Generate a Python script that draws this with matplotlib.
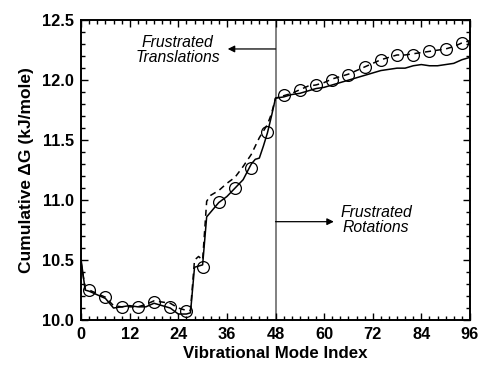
import matplotlib.pyplot as plt
from matplotlib.ticker import MultipleLocator

plt.rcParams["font.family"] = ["Liberation Sans", "DejaVu Sans"]

# solid curve
solid_x = [0, 1, 2, 4, 6, 8, 10, 12, 14, 16, 18, 20, 22, 24, 26, 27, 28, 30, 31,
           32, 34, 36, 38, 40, 42, 43, 44, 45, 46, 47, 48, 50, 52, 54, 56, 58, 60,
           62, 64, 66, 68, 70, 72, 74, 76, 78, 80, 82, 84, 86, 88, 90, 92, 94, 96]
solid_y = [10.50, 10.25, 10.24, 10.21, 10.18, 10.10, 10.11, 10.12, 10.11, 10.11,
           10.14, 10.12, 10.10, 10.05, 10.05, 10.06, 10.44, 10.46, 10.86, 10.90,
           10.98, 11.03, 11.10, 11.17, 11.30, 11.34, 11.35, 11.45, 11.56, 11.70,
           11.85, 11.86, 11.88, 11.89, 11.91, 11.93, 11.94, 11.96, 11.98, 12.00,
           12.02, 12.04, 12.06, 12.08, 12.09, 12.10, 12.10, 12.12, 12.13, 12.12,
           12.12, 12.13, 12.14, 12.17, 12.19]

# dashed curve
dash_x = [0, 1, 2, 4, 6, 8, 10, 12, 14, 16, 18, 20, 22, 24, 26, 27, 28, 29, 30,
          31, 32, 34, 36, 38, 40, 42, 44, 46, 47, 48, 50, 52, 54, 56, 58, 60, 62,
          64, 66, 68, 70, 72, 74, 76, 78, 80, 82, 84, 86, 88, 90, 92, 94, 96]
dash_y = [10.48, 10.26, 10.25, 10.22, 10.19, 10.12, 10.11, 10.11, 10.11, 10.13,
          10.16, 10.15, 10.14, 10.10, 10.08, 10.08, 10.50, 10.53, 10.50, 10.99,
          11.04, 11.08, 11.14, 11.19, 11.28, 11.38, 11.52, 11.63, 11.72, 11.85,
          11.87, 11.89, 11.92, 11.95, 11.96, 11.98, 12.01, 12.03, 12.05, 12.08,
          12.11, 12.14, 12.17, 12.19, 12.21, 12.21, 12.22, 12.23, 12.24, 12.25,
          12.26, 12.28, 12.31, 12.33]

# open circles
circ_x = [2, 6, 10, 14, 18, 22, 26, 30, 34, 38, 42, 46, 50, 54, 58, 62, 66, 70,
          74, 78, 82, 86, 90, 94]
circ_y = [10.25, 10.19, 10.11, 10.105, 10.15, 10.11, 10.075, 10.44, 10.98, 11.10,
          11.27, 11.57, 11.875, 11.92, 11.96, 12.00, 12.04, 12.11, 12.17, 12.21,
          12.21, 12.24, 12.26, 12.31]

x_ticks = [0, 12, 24, 36, 48, 60, 72, 84, 96]
y_ticks = [10.0, 10.5, 11.0, 11.5, 12.0, 12.5]
boundary = 48

fig = plt.figure(figsize=(4.8, 3.67), dpi=100)
ax = fig.add_axes([0.169, 0.128, 0.81, 0.817])

ax.axvline(boundary, color="#808080", lw=1.4, zorder=1)
ax.plot(solid_x, solid_y, color="black", lw=1.1, zorder=3)
ax.plot(dash_x, dash_y, color="black", lw=1.1, ls=(0, (4, 3)), zorder=3)
ax.plot(circ_x, circ_y, ls="none", marker="o", ms=8.5, mfc="none", mec="black",
        mew=0.9, zorder=4)

arrow = dict(arrowstyle="-|>", color="black", lw=0.9, mutation_scale=10,
             shrinkA=0, shrinkB=0)
ax.annotate("", xy=(36.2, 12.26), xytext=(boundary, 12.26), arrowprops=arrow)
ax.text(23.8, 12.25, "Frustrated\nTranslations", style="italic", fontsize=11.3,
        ha="center", va="center", linespacing=1.0)
ax.annotate("", xy=(62.4, 10.82), xytext=(boundary, 10.82), arrowprops=arrow)
ax.text(72.8, 10.83, "Frustrated\nRotations", style="italic", fontsize=11.3,
        ha="center", va="center", linespacing=1.0)

ax.set_xlim(0, 96)
ax.set_ylim(10.0, 12.5)
ax.set_xticks(x_ticks)
ax.set_yticks(y_ticks)
ax.set_yticklabels([f"{v:.1f}" for v in y_ticks])
ax.xaxis.set_minor_locator(MultipleLocator(2))
ax.yaxis.set_minor_locator(MultipleLocator(0.1))
ax.tick_params(which="both", direction="in", top=True, right=True, width=1.0,
               labelsize=11.8, pad=5)
ax.tick_params(which="major", length=5)
ax.tick_params(which="minor", length=3)
for lab in ax.get_xticklabels() + ax.get_yticklabels():
    lab.set_fontweight("bold")
for sp in ax.spines.values():
    sp.set_linewidth(1.4)

ax.set_xlabel("Vibrational Mode Index", fontsize=12.2, fontweight="bold", labelpad=3)
ax.set_ylabel("Cumulative ΔG (kJ/mole)", fontsize=12.5, fontweight="bold", labelpad=6)

fig.savefig("out.png", dpi=100)
